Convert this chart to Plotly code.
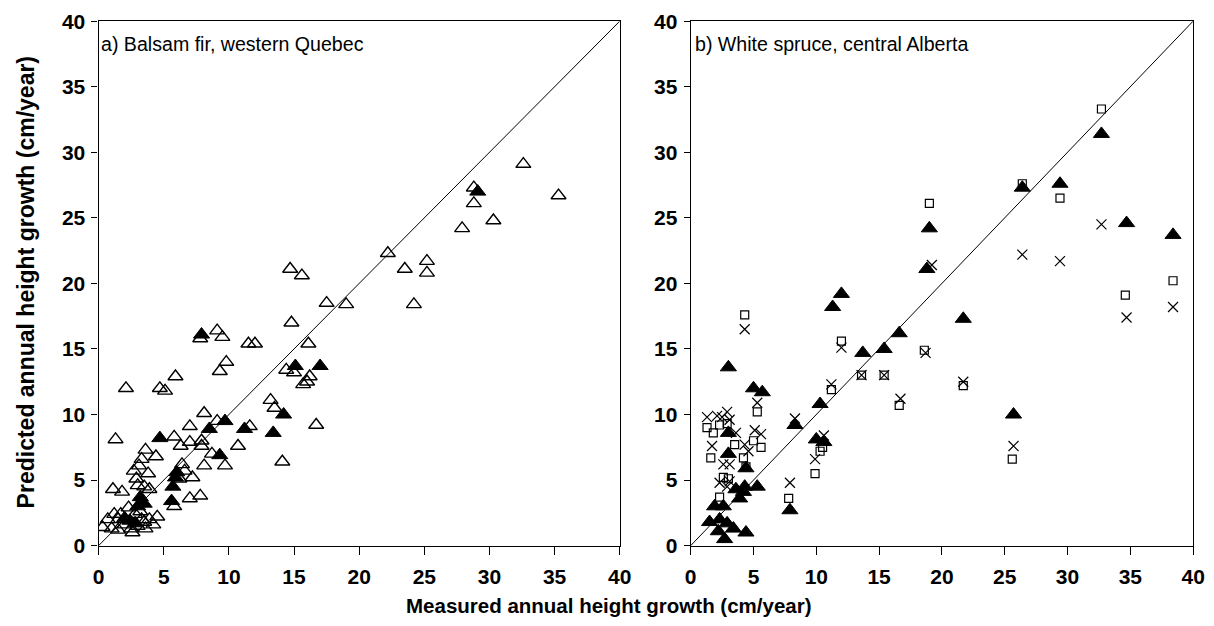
import plotly.graph_objects as go

# ---------------- Data ----------------
a_open_x = [32.6, 35.3, 28.8, 28.8, 30.3, 27.9, 22.2, 23.5, 25.2, 25.2, 24.2, 14.7, 15.6, 17.5, 19.0,
            14.8, 7.8, 9.1, 9.5, 11.5, 12.0, 16.1, 9.8, 9.3, 5.9, 2.1, 4.7, 5.1, 14.4, 15.0, 16.2,
            16.0, 15.7, 13.2, 13.5, 16.7, 14.1, 8.1, 7.0, 9.1, 11.6, 5.8, 1.3, 10.7, 9.7, 8.7, 8.1,
            7.9, 7.9, 7.0, 6.3, 3.6, 3.3, 4.4, 2.7, 3.8, 3.1, 2.9, 6.2, 7.2, 6.6, 6.4, 7.0, 7.8,
            5.8, 1.1, 1.8, 3.5, 3.9, 3.0,
            0.3, 0.7, 1.2, 1.5, 1.7, 1.0, 1.5, 2.0, 2.5, 2.8, 3.0, 3.3, 3.6, 3.9, 4.2, 4.5, 2.3,
            3.2, 2.6, 3.5]
a_open_y = [29.1, 26.7, 27.3, 26.1, 24.8, 24.2, 22.3, 21.1, 21.7, 20.8, 18.4, 21.1, 20.6, 18.5, 18.4,
            17.0, 15.8, 16.4, 15.9, 15.4, 15.4, 15.4, 14.0, 13.3, 12.9, 12.0, 12.0, 11.8, 13.4, 13.2, 12.9,
            12.5, 12.3, 11.1, 10.5, 9.2, 6.4, 10.1, 9.1, 9.5, 9.1, 8.3, 8.1, 7.6, 6.1, 7.0, 6.1,
            8.0, 7.6, 7.9, 7.6, 7.3, 6.6, 6.8, 5.7, 5.5, 6.1, 5.1, 5.1, 5.2, 5.7, 6.2, 3.6, 3.8,
            3.0, 4.3, 4.1, 4.5, 4.3, 4.6,
            1.4, 2.0, 2.4, 2.0, 2.4, 1.3, 1.2, 1.6, 1.3, 2.4, 1.5, 2.0, 1.3, 2.0, 1.6, 2.2, 2.9,
            2.6, 1.0, 1.8]
a_fill_x = [29.1, 7.9, 15.1, 17.0, 14.2, 13.4, 11.2, 9.7, 8.5, 4.7, 9.3, 6.0, 5.9, 5.7, 5.6,
            3.2, 3.5, 3.0, 2.4, 2.8, 2.0]
a_fill_y = [27.0, 16.1, 13.7, 13.7, 10.0, 8.6, 8.9, 9.5, 8.9, 8.2, 6.9, 5.6, 5.2, 4.5, 3.4,
            3.7, 3.2, 3.0, 1.9, 1.7, 2.1]

b_fill_x = [32.7, 26.4, 29.4, 34.7, 38.4, 19.0, 18.8, 21.7, 16.6, 12.0, 11.3, 15.4, 13.7, 3.0,
            5.0, 5.7, 10.3, 25.7, 8.3, 10.0, 10.6, 3.0, 3.0, 4.4, 5.3, 3.6, 4.3, 3.9, 7.9, 1.9,
            2.6, 1.5, 2.3, 2.9, 2.2, 3.4, 2.7, 4.4, 4.2]
b_fill_y = [31.4, 27.3, 27.6, 24.6, 23.7, 24.2, 21.1, 17.3, 16.2, 19.2, 18.2, 15.0, 14.7, 13.6,
            12.0, 11.7, 10.8, 10.0, 9.2, 8.1, 7.9, 8.6, 7.0, 5.9, 4.5, 4.3, 4.5, 3.6, 2.7, 3.0,
            3.0, 1.8, 2.0, 1.7, 1.1, 1.3, 0.5, 1.0, 4.1]
b_sq_x = [32.7, 26.4, 29.4, 19.0, 34.6, 38.4, 4.3, 12.0, 13.6, 15.4, 18.6, 11.2, 21.7, 16.6,
          5.3, 25.6, 1.3, 1.8, 2.3, 2.9, 1.6, 3.5, 4.2, 5.0, 5.6, 2.6, 3.0, 4.4, 2.3, 7.8,
          10.3, 10.5, 9.9]
b_sq_y = [33.3, 27.6, 26.5, 26.1, 19.1, 20.2, 17.6, 15.6, 13.0, 13.0, 14.9, 11.9, 12.2, 10.7,
          10.2, 6.6, 9.0, 8.6, 9.2, 9.3, 6.7, 7.7, 6.7, 8.0, 7.5, 5.2, 5.1, 6.0, 3.7, 3.6,
          7.2, 7.5, 5.5]
b_x_x = [32.7, 26.4, 29.4, 34.7, 38.4, 19.2, 4.3, 12.0, 13.6, 15.4, 18.7, 11.2, 21.7, 16.7,
         5.3, 25.7, 8.3, 10.6, 9.9, 7.9, 1.3, 2.1, 2.9, 2.5, 3.1, 3.6, 1.7, 4.3, 4.6, 5.1,
         5.6, 2.6, 3.1, 2.3, 3.1, 2.9]
b_x_y = [24.5, 22.2, 21.7, 17.4, 18.2, 21.4, 16.5, 15.1, 13.0, 13.0, 14.7, 12.3, 12.5, 11.2,
         10.9, 7.6, 9.7, 8.4, 6.6, 4.8, 9.8, 9.9, 10.2, 9.8, 9.6, 8.6, 7.6, 7.7, 7.2, 8.8,
         8.5, 6.2, 6.2, 4.8, 4.9, 4.5]

one_to_one = [0, 40]
tick_vals = [0, 5, 10, 15, 20, 25, 30, 35, 40]
panel_labels = ["a) Balsam fir, western Quebec", "b) White spruce, central Alberta"]
x_title = "Measured annual height growth (cm/year)"
y_title = "Predicted annual height growth (cm/year)"

# ---------------- Figure ----------------
W, H = 1214, 626
FONT = "Liberation Sans, Arial, Helvetica, sans-serif"


def px(x):
    return x / W


def py(y):
    return 1 - y / H


fig = go.Figure()
open_size = 13
fill_size = 14
fig.add_trace(go.Scatter(x=one_to_one, y=one_to_one, mode="lines", line=dict(color="black", width=1),
                         xaxis="x", yaxis="y", showlegend=False, hoverinfo="skip"))
fig.add_trace(go.Scatter(x=a_open_x, y=a_open_y, mode="markers", xaxis="x", yaxis="y", showlegend=False,
                         marker=dict(symbol="triangle-up-open", size=open_size, color="black",
                                     line=dict(width=1.4, color="black"))))
fig.add_trace(go.Scatter(x=a_fill_x, y=a_fill_y, mode="markers", xaxis="x", yaxis="y", showlegend=False,
                         marker=dict(symbol="triangle-up", size=fill_size, color="black",
                                     line=dict(width=1, color="black"))))
fig.add_trace(go.Scatter(x=one_to_one, y=one_to_one, mode="lines", line=dict(color="black", width=1),
                         xaxis="x2", yaxis="y2", showlegend=False, hoverinfo="skip"))
fig.add_trace(go.Scatter(x=b_sq_x, y=b_sq_y, mode="markers", xaxis="x2", yaxis="y2", showlegend=False,
                         marker=dict(symbol="square-open", size=8, color="black",
                                     line=dict(width=1.2, color="black"))))
fig.add_trace(go.Scatter(x=b_x_x, y=b_x_y, mode="markers", xaxis="x2", yaxis="y2", showlegend=False,
                         marker=dict(symbol="x-thin-open", size=10, color="black",
                                     line=dict(width=1.2, color="black"))))
fig.add_trace(go.Scatter(x=b_fill_x, y=b_fill_y, mode="markers", xaxis="x2", yaxis="y2", showlegend=False,
                         marker=dict(symbol="triangle-up", size=fill_size, color="black",
                                     line=dict(width=1, color="black"))))

ax_common = dict(range=[0, 40], tickvals=tick_vals, showgrid=False, zeroline=False,
                 showline=True, linecolor="black", linewidth=1.3, mirror=True,
                 ticks="outside", tickcolor="black", tickwidth=1.2, ticklabeloverflow="allow",
                 tickfont=dict(family=FONT, size=21, color="black", weight="bold"))

Y_TOP, Y_BOT = 9.5, 554
fig.update_layout(
    width=W, height=H,
    margin=dict(l=0, r=0, t=0, b=0),
    paper_bgcolor="white", plot_bgcolor="white",
    xaxis=dict(domain=[px(94), px(623)], anchor="y", ticklen=8, ticklabelstandoff=4, **ax_common),
    yaxis=dict(domain=[py(Y_BOT), py(Y_TOP)], anchor="x", ticklen=6, ticklabelstandoff=2, **ax_common),
    xaxis2=dict(domain=[px(695), px(1205)], anchor="y2", ticklen=8, ticklabelstandoff=4, **ax_common),
    yaxis2=dict(domain=[py(Y_BOT), py(Y_TOP)], anchor="x2", ticklen=6, ticklabelstandoff=2, **ax_common),
    annotations=[
        dict(text=panel_labels[0], xref="paper", yref="paper", x=px(94), y=py(33),
             xanchor="left", yanchor="middle", showarrow=False,
             font=dict(family=FONT, size=19.6, color="black")),
        dict(text=panel_labels[1], xref="paper", yref="paper", x=px(697), y=py(33),
             xanchor="left", yanchor="middle", showarrow=False,
             font=dict(family=FONT, size=19.6, color="black")),
        dict(text=x_title, xref="paper", yref="paper", x=px(612), y=py(616),
             xanchor="center", yanchor="middle", showarrow=False,
             font=dict(family=FONT, size=20.5, color="black", weight="bold")),
        dict(text=y_title, xref="paper", yref="paper", x=px(20), y=py(281),
             xanchor="center", yanchor="middle", showarrow=False, textangle=-90,
             font=dict(family=FONT, size=23, color="black", weight="bold")),
    ],
)

fig.write_html("out.html")
